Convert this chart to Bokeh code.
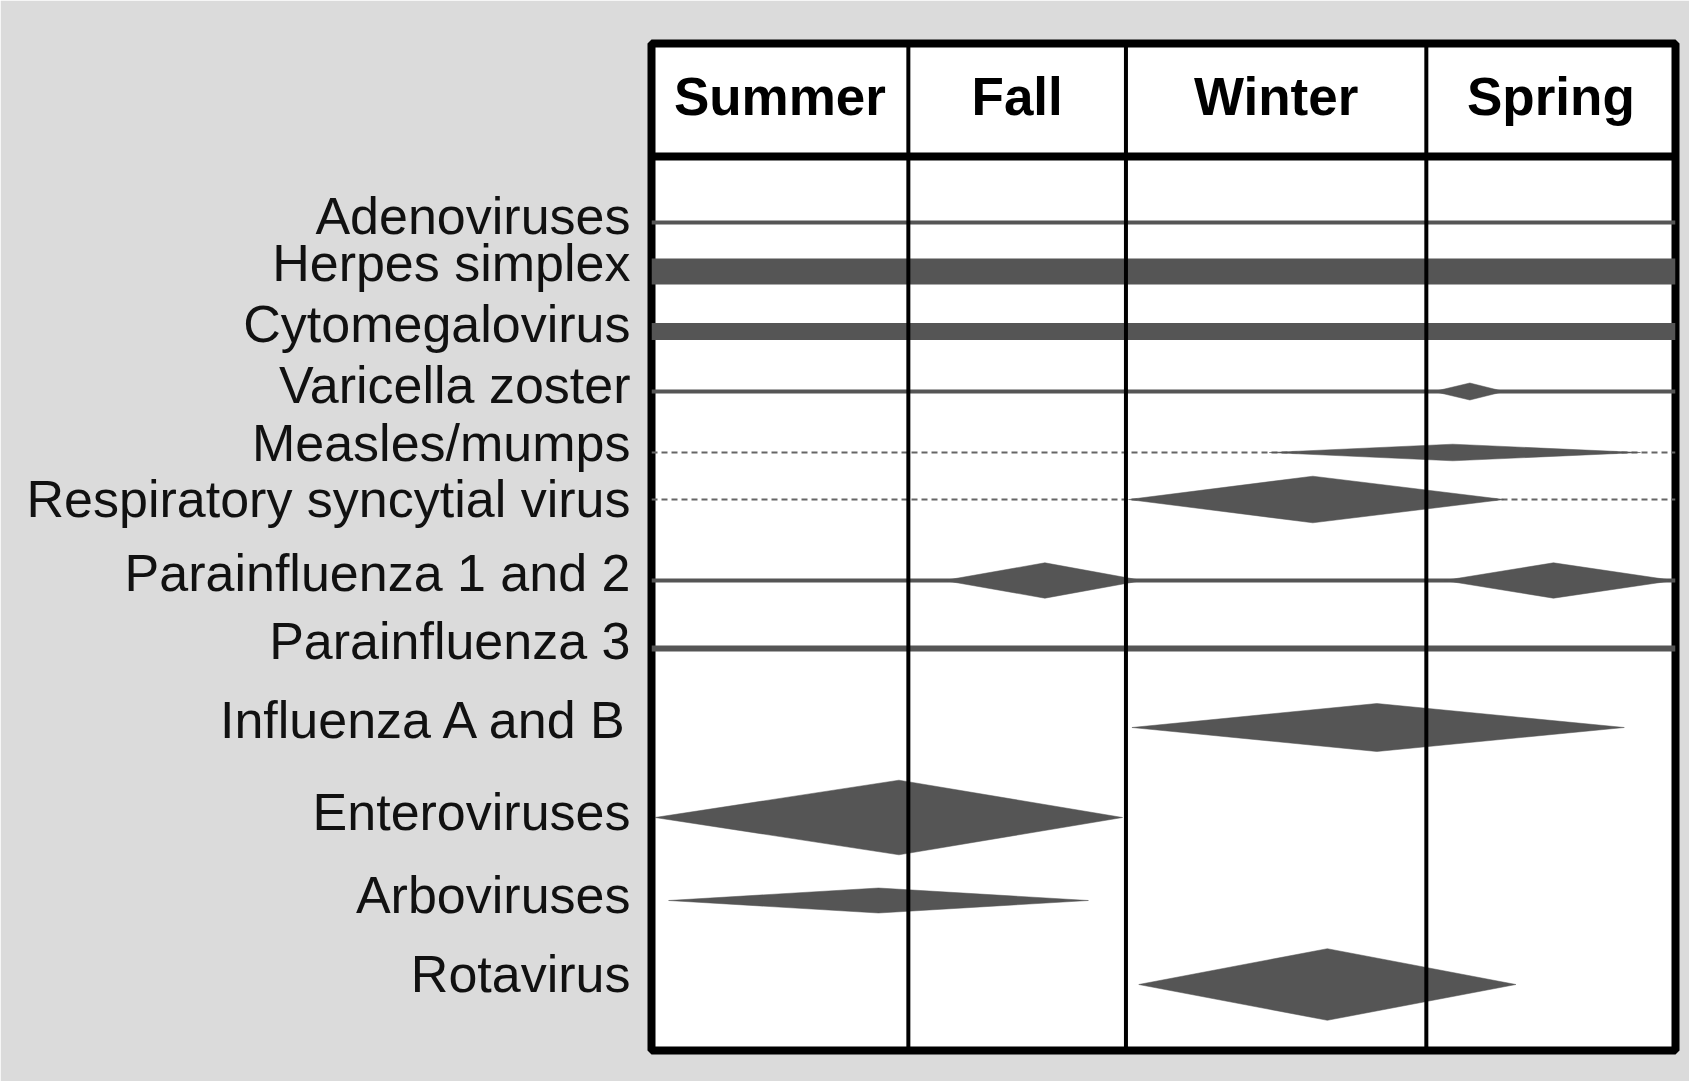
from bokeh.plotting import figure
from bokeh.models import Range1d, FixedTicker
from bokeh.core.properties import value
from bokeh.embed import file_html
from bokeh.resources import INLINE

# ---------------- data ----------------
seasons = ["Summer", "Fall", "Winter", "Spring"]
# season boundaries, in months from the start of summer
season_edges = [0.0, 3.01, 5.56, 9.08, 12.0]

viruses = ["Adenoviruses", "Herpes simplex", "Cytomegalovirus", "Varicella zoster",
           "Measles/mumps", "Respiratory syncytial virus", "Parainfluenza 1 and 2",
           "Parainfluenza 3", "Influenza A and B", "Enteroviruses", "Arboviruses",
           "Rotavirus"]
# year-round (background) activity of each virus
baseline = ["low", "high", "medium", "low", "sporadic", "sporadic", "low",
            "moderate", "none", "none", "none", "none"]

# seasonal peaks: start, peak and end (months) and peak intensity
peak_virus = ["Varicella zoster", "Measles/mumps", "Respiratory syncytial virus",
              "Parainfluenza 1 and 2", "Parainfluenza 1 and 2", "Influenza A and B",
              "Enteroviruses", "Arboviruses", "Rotavirus"]
peak_start = [9.17, 7.24, 5.59, 3.43, 9.29, 5.63, 0.04, 0.20, 5.71]
peak_top = [9.59, 9.39, 7.75, 4.61, 10.57, 8.50, 2.90, 2.66, 7.92]
peak_end = [9.99, 11.59, 9.99, 5.75, 11.98, 11.40, 5.52, 5.12, 10.13]
peak_intensity = [8.5, 8.3, 23.3, 17.7, 17.7, 24.0, 37.3, 12.5, 35.8]

# ---------------- layout / style ----------------
row_y = [179, 228, 288, 348, 409, 456, 537, 605, 684, 774, 857, 941]
label_y = [172, 219, 280, 341, 399, 455, 529, 597, 676, 768, 851, 930]
header_y = 53
header_sep_y = 113
Y_BOTTOM = 1007

GRAY = "#555555"
base_style = {
    "low": dict(kind="line", width=4),
    "moderate": dict(kind="line", width=6),
    "medium": dict(kind="band", width=17),
    "high": dict(kind="band", width=26),
    "sporadic": dict(kind="dash", width=2),
}

p = figure(width=1689, height=1081, output_backend="svg", toolbar_location=None,
           x_range=Range1d(season_edges[0], season_edges[-1]),
           y_range=Range1d(Y_BOTTOM, 0),
           x_axis_location=None,
           min_border_left=651, min_border_right=14, min_border_top=43, min_border_bottom=31)
p.border_fill_color = "#dbdbdb"
p.background_fill_color = "white"
p.outline_line_color = "black"
p.outline_line_width = 8
p.grid.visible = False

# baselines
for v, lvl, y in zip(viruses, baseline, row_y):
    if lvl == "none":
        continue
    st = base_style[lvl]
    if st["kind"] == "band":
        p.hbar(y=[y], left=[season_edges[0]], right=[season_edges[-1]],
               height=st["width"], fill_color=GRAY, line_color=None)
    elif st["kind"] == "line":
        p.segment(x0=[season_edges[0]], y0=[y], x1=[season_edges[-1]], y1=[y],
                  line_color=GRAY, line_width=st["width"])
    else:
        p.segment(x0=[season_edges[0]], y0=[y], x1=[season_edges[-1]], y1=[y],
                  line_color="#666666", line_width=st["width"], line_dash="6 4")

# diamonds
row_of = dict(zip(viruses, row_y))
xs, ys = [], []
for v, a, m, b, h in zip(peak_virus, peak_start, peak_top, peak_end, peak_intensity):
    y = row_of[v]
    xs.append([a, m, b, m])
    ys.append([y, y - h, y, y + h])
p.patches(xs=xs, ys=ys, fill_color=GRAY, line_color=GRAY, line_width=0.5)

# season dividers and header
p.segment(x0=season_edges[1:-1], y0=[0] * 3, x1=season_edges[1:-1], y1=[Y_BOTTOM] * 3,
          line_color="black", line_width=4)
p.segment(x0=[season_edges[0]], y0=[header_sep_y], x1=[season_edges[-1]], y1=[header_sep_y],
          line_color="black", line_width=8)
centers = [(season_edges[i] + season_edges[i + 1]) / 2 for i in range(4)]
p.text(x=centers, y=[header_y] * 4, text=seasons, text_font=value("Liberation Sans"),
       text_font_style="bold", text_font_size=value("53px"), text_align="center",
       text_baseline="middle", text_color="black")

# virus labels on the y axis
ax = p.yaxis[0]
ax.ticker = FixedTicker(ticks=label_y, minor_ticks=[])
ax.major_label_overrides = {yy: v for yy, v in zip(label_y, viruses)}
ax.major_label_text_font = "Liberation Sans"
ax.major_label_text_font_size = "52px"
ax.major_label_text_color = "#111111"
ax.major_tick_out = 0
ax.major_tick_in = 0
ax.minor_tick_out = 0
ax.minor_tick_in = 0
ax.axis_line_color = None
ax.major_label_standoff = 21

open("out.html", "w").write(file_html(p, INLINE))
